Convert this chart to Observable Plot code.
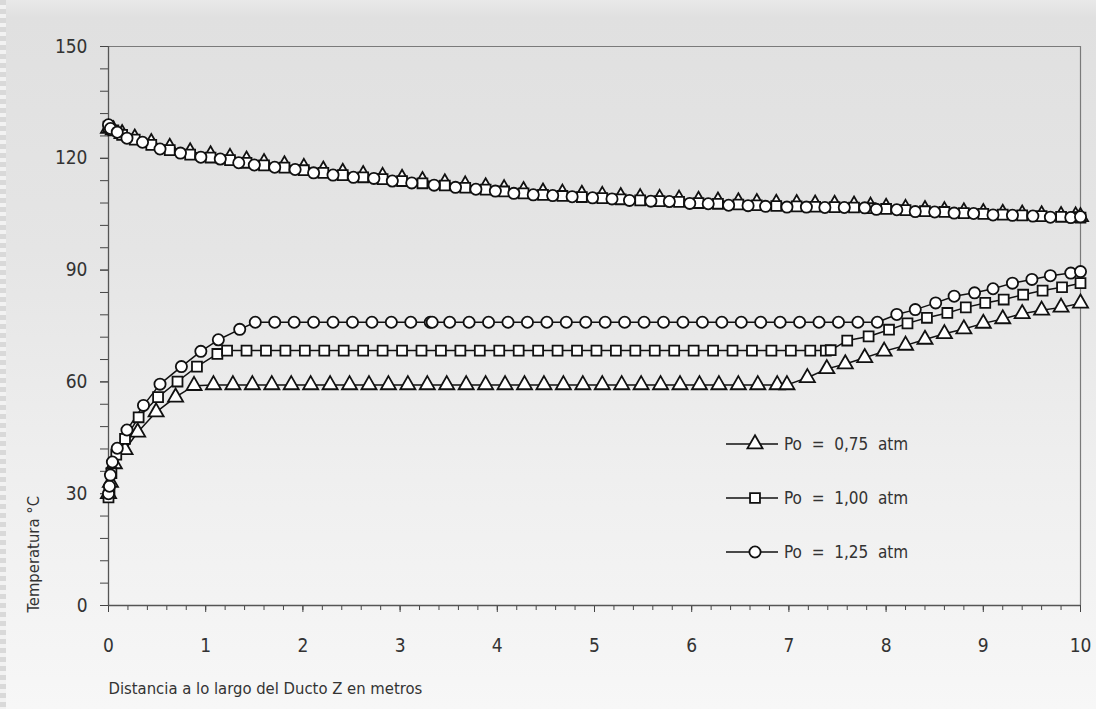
<!DOCTYPE html>
<html>
<head>
<meta charset="utf-8">
<script src="https://cdn.jsdelivr.net/npm/d3@7"></script>
<script src="https://cdn.jsdelivr.net/npm/@observablehq/plot@0.6"></script>
<style>
  html, body { margin: 0; padding: 0; }
  #wrap {
    position: relative; width: 1096px; height: 709px; overflow: hidden;
    background: linear-gradient(to bottom, #e9e9e9 0px, #e0e0e0 18px, #e5e5e5 250px, #eeeeee 450px, #f7f7f7 709px);
  }
  #strip {
    position: absolute; left: 0; top: 0; width: 6px; height: 709px;
    background: repeating-linear-gradient(to bottom, #d9d9d9 0px, #d9d9d9 5px, #f2f2f2 5px, #f2f2f2 9px);
  }
  #chart { position: absolute; left: 0; top: 0; }
  #legend { position: absolute; left: 0; top: 0; }
  svg text { font-stretch: condensed; }
</style>
</head>
<body>
<div id="wrap">
  <div id="strip"></div>
  <div id="chart"></div>
  <svg id="legend" width="1096" height="709"></svg>
</div>
<script>
// ---------------- DATA ----------------
const seriesNames = ["Po = 0,75 atm", "Po = 1,00 atm", "Po = 1,25 atm"];
const seriesLegend = ["Po  =  0,75  atm", "Po  =  1,00  atm", "Po  =  1,25  atm"];
const seriesSymbols = ["triangle", "square", "circle"];

// Upper (decreasing) curves
const upperCircleX = [0, 0.02, 0.09, 0.19, 0.35, 0.53, 0.74, 0.95, 1.15, 1.34, 1.5, 1.71, 1.92, 2.11, 2.31, 2.52, 2.73, 2.92, 3.12, 3.35, 3.57, 3.78, 3.98, 4.17, 4.37, 4.57, 4.77, 4.98, 5.18, 5.36, 5.58, 5.77, 5.98, 6.17, 6.38, 6.58, 6.76, 6.98, 7.18, 7.37, 7.57, 7.78, 7.9, 8.11, 8.3, 8.5, 8.7, 8.9, 9.1, 9.3, 9.51, 9.69, 9.9, 10];
const upperCircleY = [129, 128, 127.0, 125.4, 124.3, 122.5, 121.4, 120.3, 119.8, 118.8, 118.2, 117.6, 117.0, 116.1, 115.5, 114.9, 114.6, 113.9, 113.4, 112.8, 112.2, 111.7, 111.2, 110.6, 110.2, 110.0, 109.7, 109.4, 109.1, 108.7, 108.5, 108.4, 107.9, 107.8, 107.4, 107.3, 107.1, 106.9, 106.9, 106.8, 106.8, 106.7, 106.3, 106.2, 105.7, 105.6, 105.3, 105.2, 104.8, 104.7, 104.5, 104.2, 104.1, 104.3];
const upperMidX = [0, 0.05, 0.14, 0.27, 0.44, 0.63, 0.84, 1.05, 1.25, 1.42, 1.6, 1.81, 2.01, 2.21, 2.41, 2.62, 2.82, 3.02, 3.23, 3.46, 3.67, 3.88, 4.07, 4.27, 4.47, 4.67, 4.87, 5.08, 5.27, 5.47, 5.67, 5.87, 6.07, 6.27, 6.48, 6.67, 6.87, 7.08, 7.27, 7.47, 7.67, 7.84, 8.0, 8.2, 8.4, 8.6, 8.8, 9.0, 9.2, 9.4, 9.6, 9.8, 9.95, 10];
const upperSquareY = [128.5, 127.5, 126.3, 125.0, 123.6, 122.2, 121.0, 120.2, 119.5, 118.8, 118.1, 117.5, 116.8, 116.1, 115.5, 114.9, 114.4, 113.9, 113.3, 112.7, 112.1, 111.6, 111.1, 110.6, 110.2, 109.9, 109.6, 109.3, 109.0, 108.7, 108.5, 108.3, 108.0, 107.8, 107.6, 107.4, 107.2, 107.1, 107.0, 106.9, 106.8, 106.6, 106.4, 106.1, 105.8, 105.6, 105.3, 105.1, 104.9, 104.7, 104.5, 104.3, 104.2, 104.1];
const upperTriangleY = [128, 127.6, 126.6, 125.4, 124.2, 122.9, 121.7, 120.9, 120.2, 119.5, 118.8, 118.2, 117.5, 116.8, 116.2, 115.6, 115.1, 114.6, 114.0, 113.4, 112.8, 112.3, 111.8, 111.3, 110.9, 110.6, 110.3, 110.0, 109.7, 109.4, 109.2, 109.0, 108.7, 108.5, 108.3, 108.1, 107.9, 107.8, 107.7, 107.6, 107.4, 107.1, 106.8, 106.5, 106.2, 105.9, 105.6, 105.4, 105.2, 105.0, 104.8, 104.6, 104.5, 104.3];

// Lower (rising) curves
const lowerTriangleX = [0, 0.02, 0.06, 0.17, 0.30, 0.49, 0.69, 0.88, 1.08, 1.28, 1.48, 1.68, 1.88, 2.08, 2.28, 2.48, 2.68, 2.88, 3.08, 3.28, 3.48, 3.68, 3.88, 4.08, 4.28, 4.48, 4.68, 4.88, 5.08, 5.28, 5.48, 5.68, 5.88, 6.08, 6.28, 6.48, 6.68, 6.88, 6.98, 7.19, 7.39, 7.58, 7.78, 7.98, 8.2, 8.4, 8.6, 8.8, 9.0, 9.2, 9.4, 9.6, 9.8, 10];
const lowerTriangleY = [30, 33, 38, 41.8, 46.5, 51.9, 55.9, 59.0, 59.2, 59.2, 59.2, 59.2, 59.2, 59.2, 59.2, 59.2, 59.2, 59.2, 59.2, 59.2, 59.2, 59.2, 59.2, 59.2, 59.2, 59.2, 59.2, 59.2, 59.2, 59.2, 59.2, 59.2, 59.2, 59.2, 59.2, 59.2, 59.2, 59.2, 59.2, 61.1, 63.5, 64.8, 66.5, 68.2, 69.8, 71.4, 72.9, 74.2, 75.7, 76.9, 78.3, 79.2, 80.0, 81.1];
const lowerSquareX = [0, 0.01, 0.03, 0.08, 0.17, 0.31, 0.51, 0.71, 0.91, 1.12, 1.22, 1.42, 1.62, 1.82, 2.02, 2.22, 2.42, 2.62, 2.82, 3.02, 3.22, 3.42, 3.62, 3.82, 4.02, 4.22, 4.42, 4.62, 4.82, 5.02, 5.22, 5.42, 5.62, 5.82, 6.02, 6.22, 6.42, 6.62, 6.82, 7.02, 7.22, 7.38, 7.43, 7.6, 7.82, 8.03, 8.22, 8.42, 8.63, 8.82, 9.02, 9.21, 9.41, 9.61, 9.81, 10];
const lowerSquareY = [29, 31, 35.5, 40.5, 44.7, 50.5, 55.9, 60.1, 64.1, 67.5, 68.4, 68.4, 68.4, 68.4, 68.4, 68.4, 68.4, 68.4, 68.4, 68.4, 68.4, 68.4, 68.4, 68.4, 68.4, 68.4, 68.4, 68.4, 68.4, 68.4, 68.4, 68.4, 68.4, 68.4, 68.4, 68.4, 68.4, 68.4, 68.4, 68.4, 68.4, 68.4, 68.5, 71.1, 72.2, 74.0, 75.7, 77.2, 78.5, 80.0, 81.2, 82.1, 83.4, 84.5, 85.4, 86.5];
const lowerCircleX = [0, 0.01, 0.02, 0.04, 0.09, 0.19, 0.36, 0.53, 0.75, 0.95, 1.13, 1.35, 1.51, 1.71, 1.91, 2.11, 2.31, 2.51, 2.71, 2.91, 3.11, 3.31, 3.33, 3.51, 3.71, 3.91, 4.11, 4.31, 4.51, 4.71, 4.91, 5.11, 5.31, 5.51, 5.71, 5.91, 6.11, 6.31, 6.51, 6.71, 6.91, 7.11, 7.31, 7.51, 7.71, 7.91, 8.11, 8.30, 8.51, 8.70, 8.91, 9.10, 9.30, 9.50, 9.69, 9.90, 10];
const lowerCircleY = [30, 32, 35, 38.5, 42.2, 47.1, 53.7, 59.4, 64.1, 68.2, 71.3, 74.1, 76.0, 76.0, 76.0, 76.0, 76.0, 76.0, 76.0, 76.0, 76.0, 76.0, 76.0, 76.0, 76.0, 76.0, 76.0, 76.0, 76.0, 76.0, 76.0, 76.0, 76.0, 76.0, 76.0, 76.0, 76.0, 76.0, 76.0, 76.0, 76.0, 76.0, 76.0, 76.0, 76.0, 76.0, 78.1, 79.4, 81.2, 83.0, 83.9, 85.0, 86.5, 87.5, 88.5, 89.2, 89.6];

// Axis ticks
const xTickLabels = [0, 1, 2, 3, 4, 5, 6, 7, 8, 9, 10];
const yTickLabels = [0, 30, 60, 90, 120, 150];
const xTitle = "Distancia a lo largo del Ducto Z en metros";
const yTitle = "Temperatura °C";

// ---------------- BUILD ----------------
const zip = (xs, ys, s, part) => xs.map((x, i) => ({x, y: ys[i], series: s, part}));
const curves = [
  {s: 0, part: "up",  data: zip(upperMidX, upperTriangleY, seriesNames[0], "up")},
  {s: 0, part: "low", data: zip(lowerTriangleX, lowerTriangleY, seriesNames[0], "low")},
  {s: 1, part: "up",  data: zip(upperMidX, upperSquareY, seriesNames[1], "up")},
  {s: 1, part: "low", data: zip(lowerSquareX, lowerSquareY, seriesNames[1], "low")},
  {s: 2, part: "up",  data: zip(upperCircleX, upperCircleY, seriesNames[2], "up")},
  {s: 2, part: "low", data: zip(lowerCircleX, lowerCircleY, seriesNames[2], "low")}
];

const xMinor = d3.range(0, 10.001, 0.2);
const yMinor = d3.range(0, 150.001, 6);
const FONT = "'DejaVu Sans Condensed', 'Liberation Sans Narrow', 'DejaVu Sans', sans-serif";

const marks = [
  Plot.ruleY([150], {stroke: "#7a7a7a", strokeWidth: 1.2}),
  Plot.ruleX([10], {stroke: "#7a7a7a", strokeWidth: 1.2}),
  Plot.axisY({ticks: yMinor, tickSize: 8, tickFormat: () => "", stroke: "#444", label: null}),
  Plot.axisY({ticks: yTickLabels, tickSize: 8, tickPadding: 13, fontSize: 19, fill: "#333", stroke: "#444", label: null}),
  Plot.axisX({ticks: xMinor, tickSize: 5, tickFormat: () => "", stroke: "#444", label: null}),
  Plot.axisX({ticks: xTickLabels, tickSize: 7, tickPadding: 26, fontSize: 19, fill: "#333", stroke: "#444", label: null}),
  Plot.ruleX([0], {stroke: "#555", strokeWidth: 1.3}),
  Plot.ruleY([0], {stroke: "#555", strokeWidth: 1.3}),
  Plot.text([xTitle], {frameAnchor: "bottom-left", textAnchor: "start", lineAnchor: "middle", dy: 83, fontSize: 16.5, fill: "#333"}),
  Plot.text([yTitle], {frameAnchor: "bottom-left", textAnchor: "start", lineAnchor: "middle", rotate: -90, dx: -75, dy: 7, fontSize: 16.5, fill: "#333"})
];
for (const c of curves) {
  marks.push(Plot.line(c.data, {x: "x", y: "y", stroke: "#111", strokeWidth: 1.5}));
}
for (const c of curves) {
  marks.push(Plot.dot(c.data, {x: "x", y: "y", symbol: () => seriesSymbols[c.s], r: 5.6, fill: "white", stroke: "#111", strokeWidth: 1.8}));
}

const chart = Plot.plot({
  width: 1096,
  height: 709,
  marginLeft: 108,
  marginRight: 16,
  marginTop: 46,
  marginBottom: 104,
  x: {domain: [0, 10], label: null},
  y: {domain: [0, 150], label: null},
  symbol: {type: "identity"},
  style: {background: "transparent", fontFamily: FONT, color: "#333"},
  marks
});
document.getElementById("chart").appendChild(chart);

// ---------------- LEGEND ----------------
const leg = d3.select("#legend");
const rowY = [444, 498, 552];
const sym = d3.symbol().size(Math.PI * 5.6 * 5.6);
const symMap = {triangle: d3.symbolTriangle, square: d3.symbolSquare, circle: d3.symbolCircle};
seriesLegend.forEach((name, i) => {
  const g = leg.append("g").attr("transform", `translate(0,${rowY[i]})`);
  g.append("line").attr("x1", 726).attr("x2", 778).attr("y1", 0).attr("y2", 0).attr("stroke", "#111").attr("stroke-width", 1.5);
  g.append("path").attr("d", sym.type(symMap[seriesSymbols[i]])()).attr("transform", "translate(755,0)")
    .attr("fill", "white").attr("stroke", "#111").attr("stroke-width", 1.8);
  g.append("text").attr("x", 784).attr("y", 0).attr("dy", "0.35em").attr("font-size", 17)
    .attr("font-family", FONT).attr("fill", "#333").style("white-space", "pre").text(name);
});
</script>
</body>
</html>
